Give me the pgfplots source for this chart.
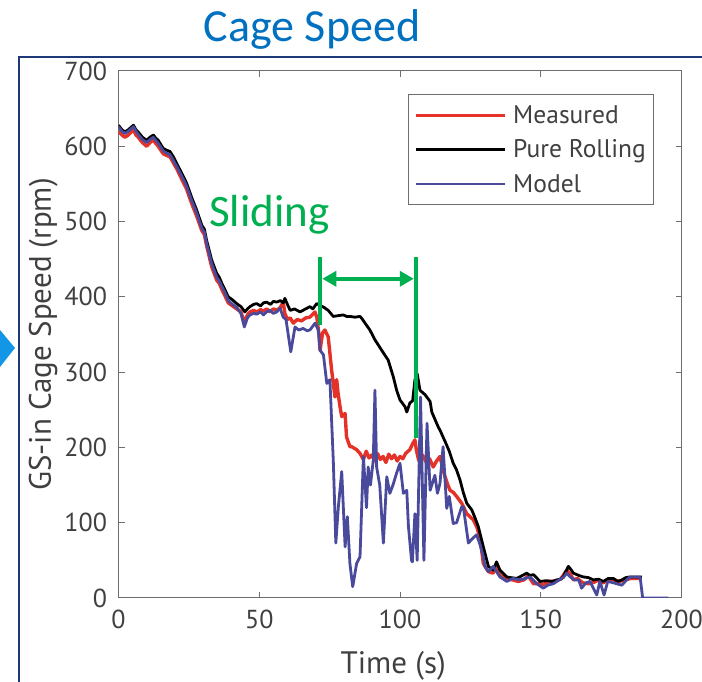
\documentclass[border=0pt]{standalone}
\usepackage{pgfplots}
\pgfplotsset{compat=1.18}
\usepackage{fontspec}
\setmainfont{PT Sans}
\newfontfamily\calfont{Carlito}
\usetikzlibrary{arrows.meta}
\definecolor{mred}{RGB}{229,50,40}
\definecolor{mblue}{RGB}{74,74,156}
\definecolor{sgreen}{RGB}{0,176,80}
\definecolor{ttlblue}{RGB}{0,112,192}
\definecolor{frameblue}{RGB}{31,56,120}
\definecolor{arrblue}{RGB}{20,150,230}
\definecolor{txtgray}{RGB}{64,64,64}
\definecolor{axgray}{RGB}{110,110,110}

\pgfplotstableread{
t v
0 628
1.2 622
2.3 619
3.5 622
5.3 628
6.2 622
7 619
8.5 612
10 608
11.2 612
12.4 615
13.2 611
14.1 608
15.9 597
17 595
18.3 593
19.5 586
20.7 577
22.5 564
24.2 551
26 532
27.8 515
29.6 495
30.5 490
31.3 475
33.1 449
34.9 431
35.8 426
36.7 418
38 408
39 400
40.5 396
42 391
43.5 387
44.9 380
45.8 384
46.7 387
48 390
49.1 391
50.5 388
51.5 392
52.6 393
54 390
55 394
56.2 393
57.5 395
58.5 392
59.1 398
60 390
61 382
62.5 384
64.5 380
66 383
68 387
69 384
70.4 391
71.5 389
73 386
74.5 382
76.3 374
78 375
79.9 376
81 374
82.2 374
84 373
85.8 374
86.5 371
87.6 365
89.3 356
91.1 343
93.5 329
95.8 316
97.6 294
98.8 276
100 263
101.8 254
102.4 247
103.5 259
104.5 262
105.3 290
106.1 298
107.1 276
108.9 270
110.7 261
111.3 247
113.6 227
114.2 223
116 208
117.5 195
118.9 179
120.1 170
121.3 157
122.5 140
123.7 126
125.5 117
126.5 108
127.8 95
129.6 68
131.4 42
133.1 37
134.3 48
135.5 37
137.9 28
139.5 27
141.5 26
143 29
145 33
146.2 30
147.4 31
148.5 27
149.7 22
152 23
154 22
155.7 24
157 25
158 28
159.8 42
160.7 38
161.6 33
163.5 30
165.1 28
167 27
168.7 24
170.5 25
172.2 22
174 26
175.8 26
177.3 22
178.8 24
180.2 27
181.7 28
184 28
185.9 28
}\rollingtable

\pgfplotstableread{
t v
0 620
1.2 615
2.3 612
3.5 615
5.3 622
6.2 615
7 612
8.5 605
10 600
11.2 605
12.4 608
13.2 604
14.1 600
15.9 590
17 588
18.3 586
19.5 578
20.7 570
22.5 556
24.2 543
26 524
27.8 507
29.6 488
30.5 483
31.3 468
33.1 440
34.9 422
35.8 418
36.7 410
38 400
39 392
40.5 388
42 384
43.5 380
44.7 366
45.8 376
46.7 380
48 382
49.1 380
50.5 383
51.5 381
52.6 384
54 380
55 384
56.2 382
57.5 386
58.5 393
59.1 378
60 370
61 372
62.1 365
63.5 370
65 368
66.5 372
68 373
69.8 380
70.5 372
71.2 350
71.6 329
72.5 352
73.3 356
74.5 347
75.7 303
76.9 267
77.5 290
78 272
78.7 254
79.3 241
80.5 245
81 214
82.2 201
82.8 201
84.6 197
85.8 192
87 184
88 195
89 186
90 190
91 182
92 192
93 184
94 188
95 180
96 191
97 185
98 190
99 182
100 188
101 185
102 192
103.5 197
104.5 205
105.3 210
105.8 197
106.5 185
107.1 179
108 190
109.5 179
110.5 185
111.8 174
113 182
114.2 188
115 175
116 161
117 150
117.8 143
119 140
120.1 135
121.9 126
123.7 112
126 104
127.2 95
128.4 81
129.6 46
130.5 40
131.4 35
133 33
134.3 40
135.5 30
137.9 26
140 24
142 22
144 24
145.5 30
147.4 19
149 19
151 18
153 22
155 22
157 25
158 30
159.2 37
160.5 32
161.6 24
163 26
165 20
167 19
169 21
170.5 24
172 20
174 24
176 24
178 22
180 24
182 26
185.9 26
}\measuredtable

\pgfplotstableread{
t v
0 626
1.2 620
2.3 617
3.5 620
5.3 626
6.2 620
7 616
8.5 609
10 605
11.2 609
12.4 612
13.2 608
14.1 604
15.9 594
17 591
18.3 589
19.5 581
20.7 573
22.5 560
24.2 547
26 528
27.8 511
29.6 491
30.5 486
31.3 471
33.1 444
34.9 426
35.8 421
36.7 414
38 404
39 395
40.5 390
42 386
43.5 378
44.7 360
45.8 372
46.7 376
48 378
49.1 377
50.5 380
51.5 376
52.6 380
53.8 382
55 378
56.2 380
57.4 385
58.5 373
59.5 370
61.2 327
62.7 360
64 356
65.6 358
67 355
68 356
69.8 365
71 356
71.6 329
72.8 323
74 285
75.1 290
75.7 236
76.3 183
77.2 73
78.1 121
79.3 168
80.5 68
81.3 108
82.2 46
83.2 15
84.6 46
85.8 55
87 188
88.1 120
88.7 174
89.5 150
90.5 183
91.1 276
91.7 174
92.8 150
94.1 73
95.3 161
96.4 139
97.5 150
98.8 166
100 179
101.2 139
102.4 143
103 95
104.1 50
104.4 48
105.3 112
106.1 50
107.3 267
108.5 50
109.6 232
110.7 143
112.4 163
113.3 139
114.2 152
115.3 201
116.6 119
117.5 135
118.9 99
120.1 100
121.9 121
122.5 121
124.3 73
125.5 78
127.2 84
128.5 70
129.6 55
130.2 42
131.4 35
133.1 42
134.3 35
135.5 28
137.9 22
140.2 26
142.5 24
144.5 26
146.2 28
148.6 19
150.9 13
152.5 17
154.5 19
156.5 24
158 27
159.2 33
160.5 28
162 24
163.5 24
164.5 13
166 20
167.5 22
169.9 4
171 22
172.5 4
173.8 22
176 20
178.8 17
180.5 24
181.7 28
183.5 28
185.3 28
186.2 0
195.3 0
}\modeltable

\begin{document}
\begin{tikzpicture}[x=1pt,y=1pt]
\useasboundingbox (0,0) rectangle (702,682);
% slide frame and marker
\draw[frameblue, line width=1.8pt] (19,-5) -- (19,625) -- (710,625);
\fill[arrblue] (0,352) -- (15,334) -- (0,315) -- cycle;
% title
\node[anchor=base, text=ttlblue, inner sep=0pt] at (312,640) {\calfont\fontsize{46}{50}\selectfont Cage Speed};
\begin{axis}[
  at={(118.5pt,84pt)}, anchor=south west,
  scale only axis, width=563pt, height=527pt,
  xmin=0, xmax=200, ymin=0, ymax=700,
  xtick={0,50,100,150,200}, ytick={0,100,...,700},
  axis line style={axgray, line width=1pt},
  major tick style={axgray, line width=1pt},
  major tick length=6pt,
  tick align=inside,
  /pgf/number format/assume math mode=true,
  tick label style={text=txtgray, font=\fontsize{26}{29}\selectfont},
  xticklabel style={yshift=-8pt},
  yticklabel style={xshift=-8pt},
  label style={text=txtgray, font=\fontsize{31}{34}\selectfont},
  xlabel={Time (s)},
  ylabel={GS-in Cage Speed (rpm)},
  xlabel style={at={(axis description cs:0.488,0)}, anchor=north, yshift=-50pt},
  ylabel style={yshift=0pt},
  legend cell align=left,
  legend style={at={(0.514,0.956)}, anchor=north west, draw=axgray, line width=0.8pt,
    fill=white, font=\fontsize{25.5}{28}\selectfont, text=txtgray,
    inner xsep=6pt, inner ysep=9pt, row sep=11pt},
  legend image code/.code={\draw[#1, line width=2.5pt] (0pt,0pt) -- (89pt,0pt); \path (94pt,0pt);},
]
\addplot[mred, line width=3.4pt, line join=round] table[x=t,y=v] {\measuredtable};
\addlegendentry{Measured}
\addplot[black, line width=2.8pt, line join=round] table[x=t,y=v] {\rollingtable};
\addlegendentry{Pure Rolling}
\addplot[mblue, line width=2.8pt, line join=round] table[x=t,y=v] {\modeltable};
\addlegendentry{Model}
% annotation
\draw[sgreen, line width=4pt] (axis cs:71.6,363) -- (axis cs:71.6,453);
\draw[sgreen, line width=4pt] (axis cs:105.7,212) -- (axis cs:105.7,453);
\draw[sgreen, line width=4pt, {Triangle[length=14pt,width=15pt]}-{Triangle[length=14pt,width=15pt]}] (axis cs:72.4,424) -- (axis cs:104.9,424);
\end{axis}
\node[anchor=base west, text=sgreen, inner sep=0pt] at (209,455) {\calfont\fontsize{45}{50}\selectfont Sliding};
\end{tikzpicture}
\end{document}
